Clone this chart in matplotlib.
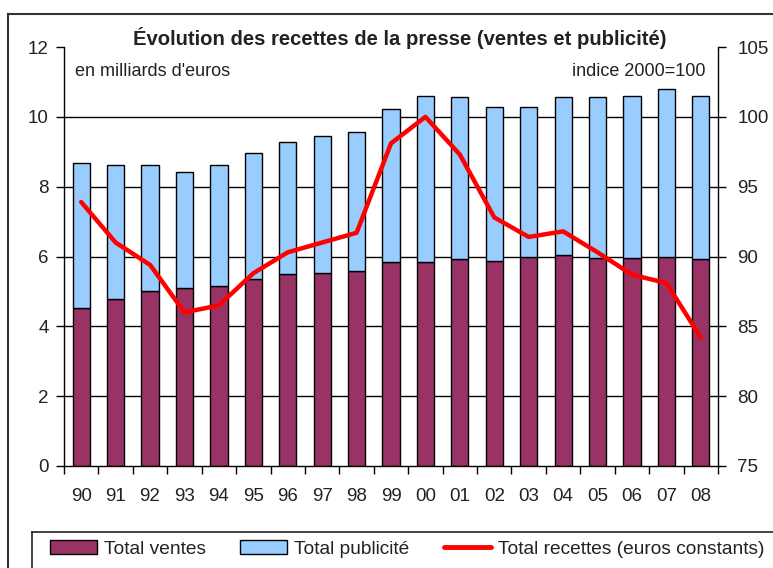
import matplotlib
matplotlib.use("Agg")
import matplotlib.pyplot as plt
from matplotlib.lines import Line2D
from matplotlib.patches import Patch

plt.rcParams['font.family'] = ['Liberation Sans', 'DejaVu Sans']

years = ["90", "91", "92", "93", "94", "95", "96", "97", "98", "99",
         "00", "01", "02", "03", "04", "05", "06", "07", "08"]
ventes = [4.53, 4.78, 5.01, 5.10, 5.16, 5.36, 5.50, 5.53, 5.59, 5.85,
          5.85, 5.93, 5.87, 5.99, 6.04, 5.95, 5.95, 5.99, 5.93]
total = [8.68, 8.62, 8.62, 8.42, 8.62, 8.97, 9.28, 9.46, 9.57, 10.23,
         10.60, 10.56, 10.28, 10.28, 10.56, 10.56, 10.60, 10.80, 10.60]
publicite = [t - v for t, v in zip(total, ventes)]
recettes = [93.9, 91.0, 89.4, 86.0, 86.5, 88.8, 90.3, 91.0, 91.7, 98.1,
            100.0, 97.3, 92.8, 91.4, 91.8, 90.3, 88.7, 88.1, 84.2]

left_ticks = [0, 2, 4, 6, 8, 10, 12]
right_ticks = [75, 80, 85, 90, 95, 100, 105]
grid_vals = [2, 4, 6, 8, 10]

c_ventes = "#993366"
c_pub = "#99CCFF"
c_line = "#FF0000"
c_text = "#222222"

W, H = 773, 568
fig = plt.figure(figsize=(W / 100, H / 100), dpi=100)
ax = fig.add_axes([64 / W, (H - 466) / H, (718 - 64) / W, (466 - 47) / H])
ax2 = ax.twinx()

x = list(range(len(years)))
for g in grid_vals:
    ax.axhline(g, color="black", lw=1.0, zorder=0.5)
ax.bar(x, ventes, width=0.5, color=c_ventes, edgecolor="black", lw=1.0, zorder=2)
ax.bar(x, publicite, width=0.5, bottom=ventes, color=c_pub, edgecolor="black", lw=1.0, zorder=2)

ax2.plot(x, recettes, color=c_line, lw=3.2, solid_joinstyle="round", solid_capstyle="round")

ax.set_xlim(-0.5, len(years) - 0.5)
ax.set_ylim(0, 12)
ax2.set_ylim(75, 105)
ax.set_yticks(left_ticks)
ax2.set_yticks(right_ticks)
ax.set_xticks(x)
ax.set_xticklabels(years)
ax.set_xticks([i - 0.5 for i in range(len(years) + 1)], minor=True)
ax.tick_params(axis="x", which="major", length=0, pad=16, labelsize=13.5, colors=c_text)
ax.tick_params(axis="x", which="minor", length=6, width=1.0, direction="out")
ax.tick_params(axis="y", length=6, width=1.0, direction="out", pad=5, labelsize=13.5, labelcolor=c_text)
ax2.tick_params(axis="y", length=6, width=1.0, direction="out", pad=8, labelsize=13.5, labelcolor=c_text)

for a in (ax, ax2):
    a.spines["top"].set_visible(False)
    for s in ("left", "right", "bottom"):
        a.spines[s].set_linewidth(1.0)
ax.spines["right"].set_visible(False)
ax2.spines["left"].set_visible(False)
ax2.spines["bottom"].set_visible(False)

fig.text(400 / W, 1 - 38 / H, "Évolution des recettes de la presse (ventes et publicité)",
         ha="center", va="center", fontsize=14.6, fontweight="bold", color=c_text)
fig.text(75 / W, 1 - 71 / H, "en milliards d'euros", ha="left", va="center", fontsize=13, color=c_text)
fig.text(706 / W, 1 - 71 / H, "indice 2000=100", ha="right", va="center", fontsize=13, color=c_text)

# outer frame
fig.add_artist(Line2D([8 / W, 1.0], [1 - 14 / H, 1 - 14 / H], transform=fig.transFigure, color="#333333", lw=1.5))
fig.add_artist(Line2D([8 / W, 8 / W], [0, 1 - 14 / H], transform=fig.transFigure, color="#333333", lw=1.5))
# legend box
fig.add_artist(Line2D([32 / W, 1.0], [1 - 532 / H, 1 - 532 / H], transform=fig.transFigure, color=c_text, lw=1.2))
fig.add_artist(Line2D([32 / W, 32 / W], [0, 1 - 532 / H], transform=fig.transFigure, color=c_text, lw=1.2))

handles = [Patch(facecolor=c_ventes, edgecolor="black", lw=1.0, label="Total ventes"),
           Patch(facecolor=c_pub, edgecolor="black", lw=1.0, label="Total publicité"),
           Line2D([], [], color=c_line, lw=3.5, solid_capstyle="round", label="Total recettes (euros constants)")]
leg = fig.legend(handles=handles, loc="center left", bbox_to_anchor=(50 / W, 1 - 549 / H), ncol=3,
                 frameon=False, fontsize=13.8, handlelength=2.45, handleheight=0.7, handletextpad=0.36,
                 columnspacing=1.8, borderpad=0, borderaxespad=0)
for t in leg.get_texts():
    t.set_color(c_text)

fig.savefig("out.png", dpi=100)
